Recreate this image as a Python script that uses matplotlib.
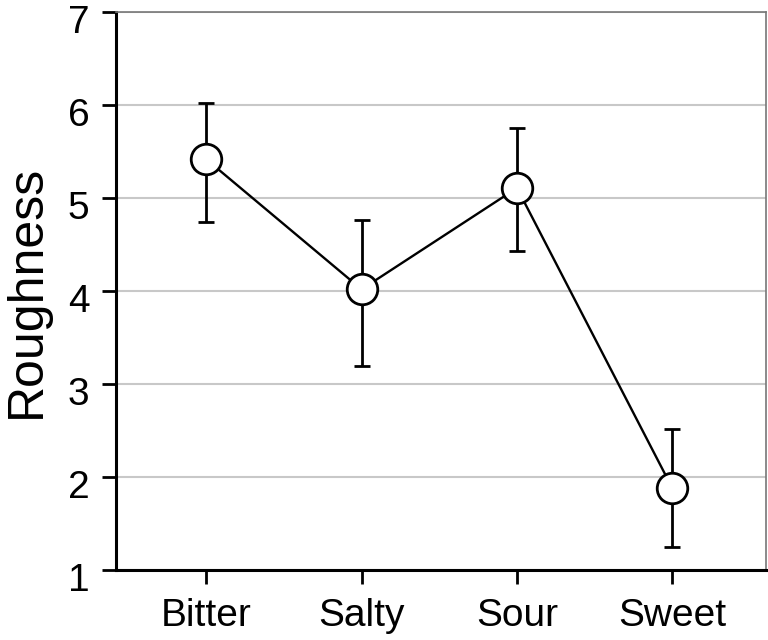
import matplotlib
matplotlib.use('Agg')
import matplotlib.pyplot as plt
from matplotlib.transforms import ScaledTranslation

# Data
tastes = ['Bitter', 'Salty', 'Sour', 'Sweet']
roughness = [5.42, 4.02, 5.11, 1.88]
err_upper = [6.02, 4.77, 5.75, 2.52]
err_lower = [4.74, 3.20, 4.43, 1.25]
y_ticks = [1, 2, 3, 4, 5, 6, 7]

plt.rcParams['font.family'] = ['Liberation Sans', 'DejaVu Sans']

fig = plt.figure(figsize=(7.68, 6.4), dpi=100)
ax = fig.add_axes([0.151, 0.109, 0.846, 0.872])

x = list(range(len(tastes)))
yerr = [[m - lo for m, lo in zip(roughness, err_lower)],
        [hi - m for m, hi in zip(roughness, err_upper)]]

ax.errorbar(x, roughness, yerr=yerr, fmt='none', ecolor='black',
            elinewidth=2, capsize=6, capthick=2, zorder=2)
ax.plot(x, roughness, color='black', linewidth=1.7, zorder=3)
ax.plot(x, roughness, 'o', markersize=22, markerfacecolor='white',
        markeredgecolor='black', markeredgewidth=2, zorder=4)

ax.set_xlim(-0.58, 3.6)
ax.set_ylim(1, 7)
ax.set_yticks(y_ticks)
ax.set_xticks(x)
ax.set_xticklabels(tastes)
ax.yaxis.grid(True, color='#c8c8c8', linewidth=1.5)
ax.set_axisbelow(True)

ax.spines['left'].set_linewidth(2.2)
ax.spines['bottom'].set_linewidth(2.2)
ax.spines['top'].set_color('#777777')
ax.spines['right'].set_color('#777777')
ax.spines['top'].set_linewidth(1.2)
ax.spines['right'].set_linewidth(1.2)

ax.tick_params(axis='both', direction='out', length=10, width=2,
               labelsize=28)
ax.tick_params(axis='x', pad=10)
ax.tick_params(axis='y', pad=9)

# y tick labels sit a little below their ticks in the reference
shift = ScaledTranslation(0, -7 / 100, fig.dpi_scale_trans)
for lab in ax.get_yticklabels():
    lab.set_transform(lab.get_transform() + shift)

ax.set_ylabel('Roughness', fontsize=36)
ax.yaxis.set_label_coords(-0.102, 0.5)

fig.savefig('out.png', dpi=100)
